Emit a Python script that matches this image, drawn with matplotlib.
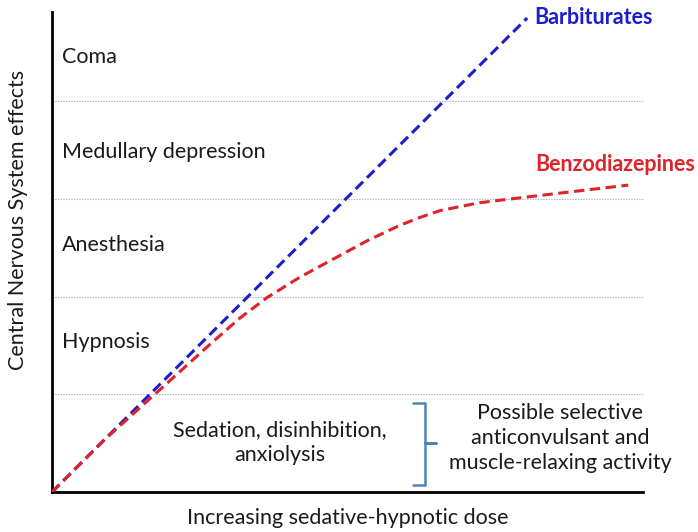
import matplotlib.pyplot as plt
from matplotlib.path import Path
from matplotlib.patches import PathPatch

plt.rcParams['font.family'] = ['Lato', 'DejaVu Sans']

# CNS effect bands (bottom to top, above the sedation band)
bands = ["Hypnosis", "Anesthesia", "Medullary depression", "Coma"]
band_levels = [1, 2, 3, 4]

# dose (fraction of axis) vs. depth of CNS effect
barb_dose = [0.0, 0.804]
barb_effect = [0.0, 4.85]

benzo_dose = [0.0, 0.088, 0.174, 0.269, 0.318, 0.364, 0.420, 0.475, 0.533,
              0.589, 0.623, 0.657, 0.690, 0.724, 0.792, 0.876, 0.975]
benzo_effect = [0.0, 0.53, 1.00, 1.52, 1.78, 1.99, 2.20, 2.38, 2.57,
                2.73, 2.81, 2.88, 2.92, 2.96, 3.01, 3.07, 3.14]

BLUE = "#1d1dcc"
RED = "#e0222a"
GRID = "#9fb4cb"
INK = "#1a1a1a"
FS = 15.5

fig = plt.figure(figsize=(6.98, 5.32), dpi=100)
ax = fig.add_axes([0.0745, 0.0752, 0.8467, 0.902])
ax.set_xlim(0, 1)
ax.set_ylim(0, 4.91)

for lv in band_levels:
    ax.axhline(lv, color=GRID, lw=0.8, ls=(0, (1.2, 1.2)), zorder=1)

ax.plot(barb_dose, barb_effect, color=BLUE, lw=2.2, ls=(0, (3.4, 1.8)),
        zorder=3)
ax.plot(benzo_dose, benzo_effect, color=RED, lw=2.2, ls=(0, (3.4, 1.8)),
        zorder=3, solid_joinstyle="round", dash_joinstyle="round")

# band names sit roughly mid-band
label_y = [1.53, 2.53, 3.48, 4.45]
for name, y in zip(bands, label_y):
    ax.text(0.017, y, name, ha="left", va="center", fontsize=FS, color=INK)

ax.text(0.386, 0.51, "Sedation, disinhibition,\nanxiolysis", ha="center",
        va="center", fontsize=FS, color=INK, linespacing=1.3)
ax.text(0.86, 0.55, "Possible selective\nanticonvulsant and\nmuscle-relaxing activity",
        ha="center", va="center", fontsize=FS, color=INK, linespacing=1.3)

ax.text(0.816, 4.86, "Barbiturates", ha="left", va="center", fontsize=FS,
        fontweight="bold", color=BLUE, clip_on=False)
ax.text(0.817, 3.35, "Benzodiazepines", ha="left", va="center", fontsize=FS,
        fontweight="bold", color=RED, clip_on=False)

# curly bracket between the two sedation labels
bx0, bx1, bx2 = 0.611, 0.631, 0.650
by0, bym, by1 = 0.07, 0.50, 0.91
verts = [(bx0, by1), (bx1, by1), (bx1, bym), (bx2, bym), (bx1, bym),
         (bx1, by0), (bx0, by0)]
codes = [Path.MOVETO] + [Path.LINETO] * 6
ax.add_patch(PathPatch(Path(verts, codes), fill=False, edgecolor="#4f81bd",
                       lw=1.8, joinstyle="round", capstyle="round", zorder=2))

fig.text(0.498, 0.026, "Increasing sedative-hypnotic dose", ha="center",
         va="center", fontsize=FS, color=INK)
fig.text(0.026, 0.586, "Central Nervous System effects", ha="center",
         va="center", rotation=90, fontsize=FS, color=INK)

ax.set_xticks([])
ax.set_yticks([])
for s in ("top", "right"):
    ax.spines[s].set_visible(False)
for s in ("left", "bottom"):
    ax.spines[s].set_linewidth(2.0)
    ax.spines[s].set_color("black")

fig.savefig("out.png", dpi=100, facecolor="white")
